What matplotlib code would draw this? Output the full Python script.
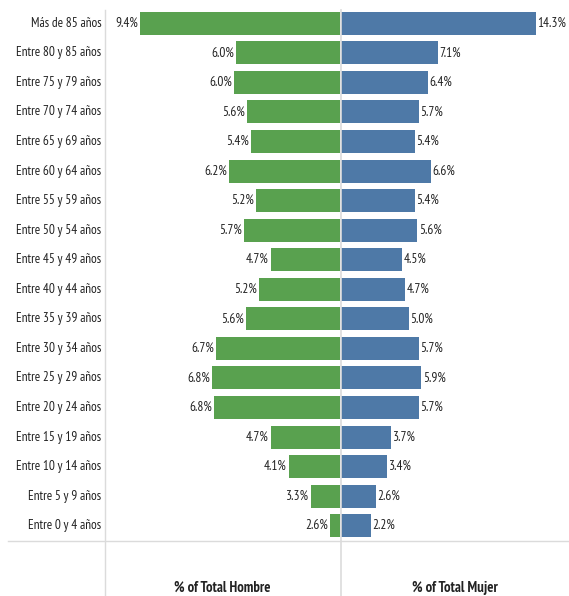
import numpy as np
import matplotlib.pyplot as plt
from matplotlib.lines import Line2D

GREEN = "#59A14F"
BLUE = "#4E79A7"
GRID = (0.86, 0.86, 0.86)
TXT = "#222222"

age_groups = [
    "Más de 85 años", "Entre 80 y 85 años", "Entre 75 y 79 años", "Entre 70 y 74 años",
    "Entre 65 y 69 años", "Entre 60 y 64 años", "Entre 55 y 59 años", "Entre 50 y 54 años",
    "Entre 45 y 49 años", "Entre 40 y 44 años", "Entre 35 y 39 años", "Entre 30 y 34 años",
    "Entre 25 y 29 años", "Entre 20 y 24 años", "Entre 15 y 19 años", "Entre 10 y 14 años",
    "Entre 5 y 9 años", "Entre 0 y 4 años",
]
hombre = [9.41, 5.97, 6.04, 5.57, 5.43, 6.22, 5.24, 5.68, 4.71, 5.16,
          5.62, 6.67, 6.82, 6.76, 4.71, 4.07, 3.28, 2.60]
mujer = [14.3, 7.1, 6.4, 5.7, 5.4, 6.6, 5.4, 5.6, 4.5, 4.7,
         5.0, 5.7, 5.9, 5.7, 3.7, 3.4, 2.6, 2.2]

plt.rcParams["font.family"] = ["PT Sans Narrow", "DejaVu Sans"]
FS = 9.5

W, H = 569, 596
fig = plt.figure(figsize=(W / 100, H / 100), dpi=100)


def px(x0, y0, x1, y1):
    return [x0 / W, 1 - y1 / H, (x1 - x0) / W, (y1 - y0) / H]


ax_h = fig.add_axes(px(105, 8.5, 340, 540.5))
ax_m = fig.add_axes(px(341, 8.5, 569, 540.5))
y = np.arange(len(age_groups))

ax_h.barh(y, hombre, height=0.78, color=GREEN)
ax_h.set_xlim(10.66, 2.24)
ax_m.barh(y, mujer, height=0.78, color=BLUE)
ax_m.set_xlim(0, 16.75)

for ax in (ax_h, ax_m):
    ax.set_ylim(len(y) - 0.5, -0.5)
    ax.set_xticks([])
    ax.set_yticks([])
    for s in ax.spines.values():
        s.set_visible(False)

for yi, v in zip(y, hombre):
    ax_h.annotate(f"{v:.1f}%", (v, yi), xytext=(-1.5, 0), textcoords="offset points",
                  ha="right", va="center", fontsize=FS, color=TXT)
for yi, v in zip(y, mujer):
    ax_m.annotate(f"{v:.1f}%", (v, yi), xytext=(1, 0), textcoords="offset points",
                  ha="left", va="center", fontsize=FS, color=TXT)

# row labels
for yi, lab in zip(y, age_groups):
    ax_h.annotate(lab, (0, yi), xycoords=("axes fraction", "data"), xytext=(-2.5, 0),
                  textcoords="offset points", ha="right", va="center", fontsize=FS, color=TXT)

ax_h.set_xlabel("% of Total Hombre", fontsize=10.5, fontweight="bold", labelpad=29, color=TXT)
ax_m.set_xlabel("% of Total Mujer", fontsize=10.5, fontweight="bold", labelpad=29, color=TXT)

# separators
fig.add_artist(Line2D([105 / W, 105 / W], [0, 1 - 10 / H], color=GRID, lw=1))
fig.add_artist(Line2D([340.5 / W, 340.5 / W], [0, 1 - 10 / H], color=GRID, lw=1.2))
fig.add_artist(Line2D([8 / W, 1], [1 - 540.5 / H, 1 - 540.5 / H], color=GRID, lw=1))

fig.savefig("out.png", dpi=100)
